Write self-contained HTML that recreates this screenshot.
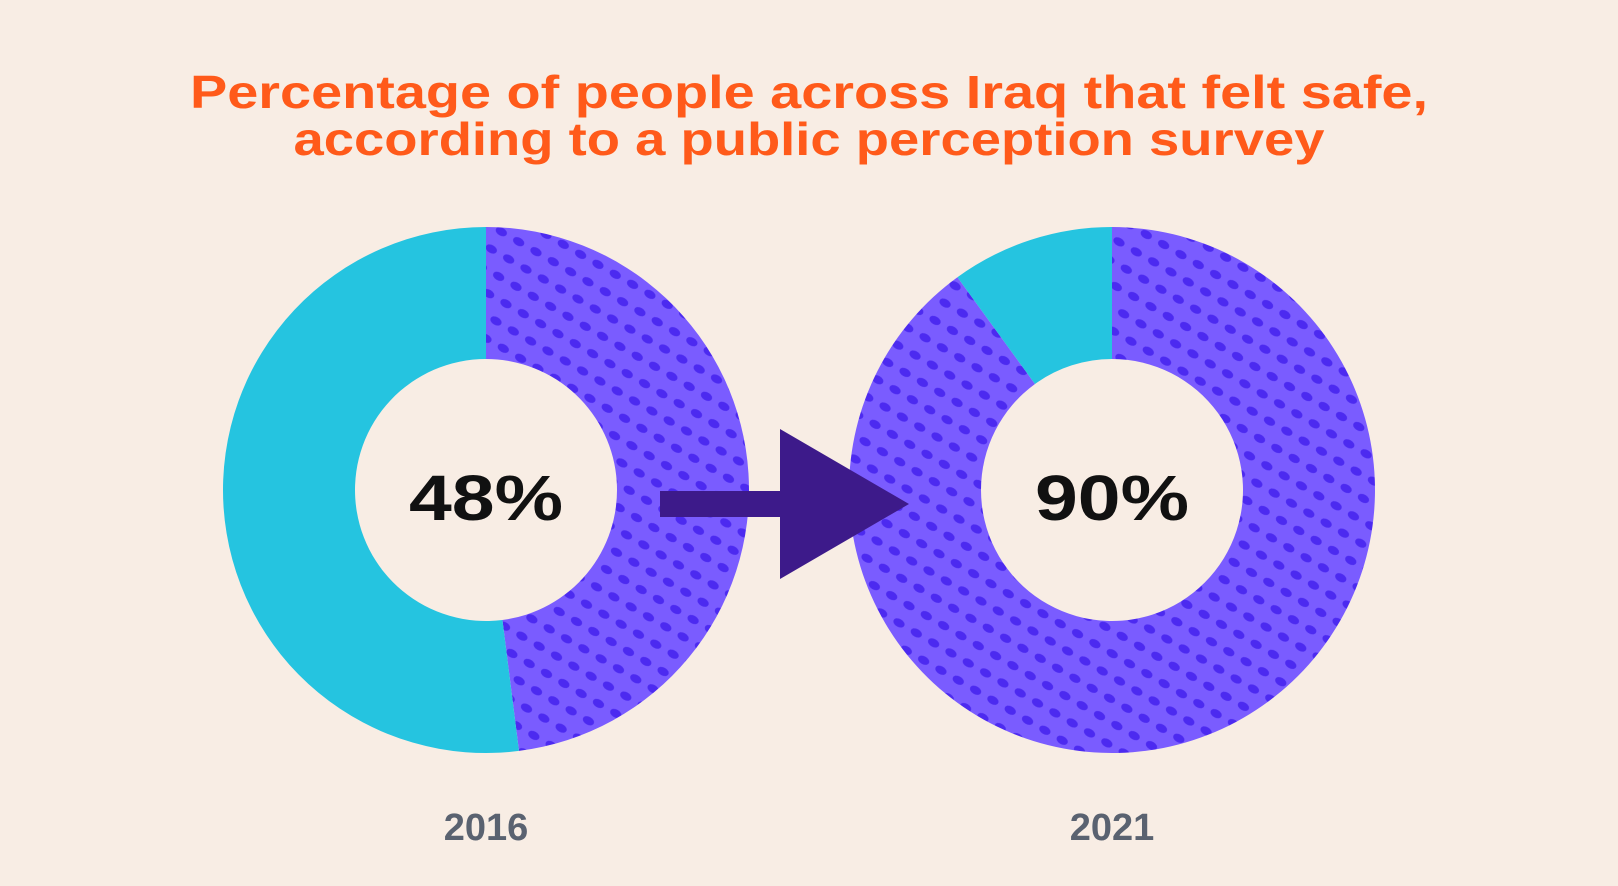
<!DOCTYPE html>
<html><head><meta charset="utf-8"><style>
html,body{margin:0;padding:0;background:#f8ede4;}
svg{display:block;}
</style></head><body>
<svg width="1618" height="886" viewBox="0 0 1618 886" xmlns="http://www.w3.org/2000/svg">
<defs>
<pattern id="dots" patternUnits="userSpaceOnUse" width="20" height="20" patternTransform="rotate(30)">
<rect width="20" height="20" fill="#7a5cff"/>
<ellipse cx="10" cy="10" rx="6" ry="4" fill="#4c2af0"/>
</pattern>
</defs>
<rect width="1618" height="886" fill="#f8ede4"/>
<text x="809" y="108" text-anchor="middle" textLength="1238" lengthAdjust="spacingAndGlyphs" font-family="Liberation Sans, sans-serif" font-weight="bold" font-size="46" fill="#ff5a1a">Percentage of people across Iraq that felt safe,</text>
<text x="809" y="155" text-anchor="middle" textLength="1031" lengthAdjust="spacingAndGlyphs" font-family="Liberation Sans, sans-serif" font-weight="bold" font-size="46" fill="#ff5a1a">according to a public perception survey</text>
<g id="charts"></g>
<rect x="660" y="491" width="122" height="26" fill="#3d1a8a"/>
<polygon points="780,429 909,504 780,579" fill="#3d1a8a"/>
</svg>
<script>
const years = ["2016", "2021"];
const safeValues = [48, 90];
const centersX = [486, 1112];
const cy = 490, R = 263, r = 131;
const NS = "http://www.w3.org/2000/svg";
const g = document.getElementById('charts');
function pt(rad, frac){const a = 2*Math.PI*frac - Math.PI/2; return [rad*Math.cos(a), rad*Math.sin(a)];}
function arc(cx, f0, f1){
  const large = (f1-f0) > 0.5 ? 1 : 0;
  const [x0,y0]=pt(R,f0),[x1,y1]=pt(R,f1),[x2,y2]=pt(r,f1),[x3,y3]=pt(r,f0);
  return `M${cx+x0},${cy+y0} A${R},${R} 0 ${large} 1 ${cx+x1},${cy+y1} L${cx+x2},${cy+y2} A${r},${r} 0 ${large} 0 ${cx+x3},${cy+y3} Z`;
}
years.forEach((yr,i)=>{
  const cx = centersX[i], f = safeValues[i]/100;
  const p1 = document.createElementNS(NS,'path');
  p1.setAttribute('d', arc(cx,0,f)); p1.setAttribute('fill','url(#dots)');
  
  
  g.appendChild(p1);
  const p2 = document.createElementNS(NS,'path');
  p2.setAttribute('d', arc(cx,f,1)); p2.setAttribute('fill','#25c4e0');
  
  
  g.appendChild(p2);
  const t = document.createElementNS(NS,'text');
  t.setAttribute('x',cx); t.setAttribute('y',cy+30); t.setAttribute('text-anchor','middle');
  t.setAttribute('font-family','Liberation Sans, sans-serif'); t.setAttribute('font-weight','bold');
  t.setAttribute('font-size','64'); t.setAttribute('fill','#111');
  t.setAttribute('textLength','154'); t.setAttribute('lengthAdjust','spacingAndGlyphs');
  t.textContent = safeValues[i]+'%';
  
  
  g.appendChild(t);
  const y = document.createElementNS(NS,'text');
  y.setAttribute('x',cx); y.setAttribute('y',840); y.setAttribute('text-anchor','middle');
  y.setAttribute('font-family','Liberation Sans, sans-serif'); y.setAttribute('font-weight','bold');
  y.setAttribute('font-size','38'); y.setAttribute('fill','#5a6270');
  y.textContent = yr;
  
  
  g.appendChild(y);
});
</script>
</body></html>
